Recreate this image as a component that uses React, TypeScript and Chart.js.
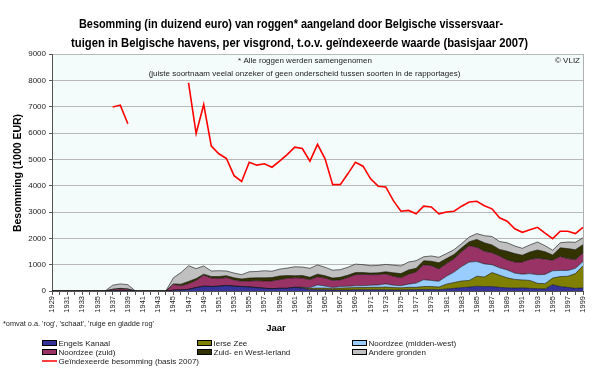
import { useEffect, useRef } from "react";
import { Chart, registerables } from "chart.js";

Chart.register(...registerables);

// Years 1929–1999
const years = [
  "1929", "1930", "1931", "1932", "1933", "1934", "1935", "1936", "1937", "1938",
  "1939", "1940", "1941", "1942", "1943", "1944", "1945", "1946", "1947", "1948",
  "1949", "1950", "1951", "1952", "1953", "1954", "1955", "1956", "1957", "1958",
  "1959", "1960", "1961", "1962", "1963", "1964", "1965", "1966", "1967", "1968",
  "1969", "1970", "1971", "1972", "1973", "1974", "1975", "1976", "1977", "1978",
  "1979", "1980", "1981", "1982", "1983", "1984", "1985", "1986", "1987", "1988",
  "1989", "1990", "1991", "1992", "1993", "1994", "1995", "1996", "1997", "1998",
  "1999",
];

const engelsKanaal = [
  0, 0, 0, 0, 0, 0, 0, 0, 10, 10,
  10, 0, 0, 0, 0, 0, 30, 40, 60, 130,
  180, 170, 180, 210, 180, 170, 150, 130, 100, 90,
  100, 100, 140, 110, 60, 50, 50, 40, 40, 40,
  50, 50, 50, 50, 50, 40, 40, 50, 50, 60,
  60, 50, 80, 100, 130, 150, 180, 170, 170, 140,
  120, 110, 120, 100, 90, 80, 240, 170, 140, 100,
  120,
];

const ierseZee = [
  0, 0, 0, 0, 0, 0, 0, 0, 0, 0,
  0, 0, 0, 0, 0, 0, 0, 0, 0, 0,
  0, 0, 0, 0, 0, 0, 0, 0, 0, 0,
  0, 0, 0, 20, 40, 60, 60, 50, 70, 80,
  80, 80, 90, 90, 100, 90, 80, 90, 90, 110,
  110, 100, 180, 220, 250, 250, 380, 360, 530, 460,
  380, 330, 300, 300, 200, 200, 250, 380, 420, 560,
  840,
];

const noordzeeMiddenWest = [
  0, 0, 0, 0, 0, 0, 0, 0, 0, 0,
  0, 0, 0, 0, 0, 0, 0, 0, 0, 0,
  0, 0, 0, 0, 0, 0, 0, 0, 0, 0,
  0, 0, 0, 10, 30, 120, 80, 40, 60, 60,
  70, 70, 80, 90, 120, 90, 80, 120, 160, 260,
  230, 220, 300, 400, 550, 700, 560, 500, 300, 280,
  300, 240, 220, 260, 330, 350, 280, 230, 220, 200,
  160,
];

const noordzeeZuid = [
  0, 0, 0, 0, 0, 0, 0, 0, 50, 70,
  60, 0, 0, 0, 0, 0, 220, 160, 220, 270,
  420, 320, 290, 300, 240, 200, 230, 260, 280, 290,
  330, 380, 360, 350, 300, 310, 300, 270, 250, 330,
  420, 430, 400, 390, 380, 340, 300, 380, 420, 570,
  560, 470, 480, 500, 560, 620, 540, 480, 450, 450,
  380, 420, 460, 540, 620, 580, 400, 530, 450, 330,
  320,
];

const zuidWestIerland = [
  0, 0, 0, 0, 0, 0, 0, 0, 10, 20,
  10, 0, 0, 0, 0, 0, 20, 60, 85, 70,
  40, 60, 80, 70, 80, 90, 110, 110, 120, 130,
  140, 110, 80, 100, 90, 100, 90, 90, 100, 90,
  80, 70, 60, 70, 80, 130, 160, 160, 140, 150,
  170, 230, 190, 170, 150, 150, 300, 320, 300, 250,
  330, 320, 260, 280, 320, 280, 200, 330, 380, 380,
  320,
];

const andereGronden = [
  0, 0, 0, 0, 0, 0, 0, 0, 150, 170,
  160, 0, 0, 0, 0, 0, 230, 440, 595, 380,
  310, 210, 220, 180, 180, 160, 240, 240, 270, 240,
  260, 280, 340, 320, 340, 350, 320, 300, 290, 300,
  320, 300, 280, 280, 280, 290, 290, 300, 290, 150,
  200, 210, 190, 180, 160, 180, 220, 270, 320, 300,
  320, 290, 260, 270, 300, 230, 180, 190, 250, 280,
  260,
];

const geindexeerd = [
  null, null, null, null, null, null, null, null, 6990, 7060,
  6350, null, null, null, null, null, null, null, 7900, 5980,
  7080, 5500, 5210, 5030, 4380, 4160, 4890, 4780, 4830, 4700,
  4930, 5180, 5460, 5410, 4930, 5570, 5020, 4040, 4040, 4450,
  4890, 4740, 4260, 3980, 3950, 3430, 3030, 3060, 2930, 3220,
  3190, 2930, 3000, 3030, 3220, 3380, 3410, 3240, 3120, 2780,
  2650, 2360, 2230, 2330, 2420, 2200, 1990, 2270, 2270, 2180,
  2420,
];

const areaSeries = [
  { label: "Engels Kanaal", data: engelsKanaal, color: "#333399" },
  { label: "Ierse Zee", data: ierseZee, color: "#808000" },
  { label: "Noordzee (midden-west)", data: noordzeeMiddenWest, color: "#99CCFF" },
  { label: "Noordzee (zuid)", data: noordzeeZuid, color: "#993366" },
  { label: "Zuid- en West-Ierland", data: zuidWestIerland, color: "#333300" },
  { label: "Andere gronden", data: andereGronden, color: "#C0C0C0" },
];
const lineLabel = "Geïndexeerde besomming (basis 2007)";

const titleLines = [
  "Besomming (in duizend euro) van roggen* aangeland door Belgische vissersvaar-",
  "tuigen in Belgische havens, per visgrond, t.o.v. geïndexeerde waarde (basisjaar 2007)",
];

const FONT = "'Liberation Sans', Arial, sans-serif";

export default function App() {
  const ref = useRef<HTMLCanvasElement>(null);

  useEffect(() => {
    document.body.style.margin = "0";
    const canvas = ref.current;
    if (!canvas) return;

    const decor = {
      id: "decor",
      beforeDraw(chart: any) {
        const { ctx, chartArea: a } = chart;
        ctx.save();
        ctx.fillStyle = "#F3FBFB";
        ctx.fillRect(a.left, a.top, a.right - a.left, a.bottom - a.top);
        ctx.restore();
      },
      afterDraw(chart: any) {
        const { ctx, chartArea: a } = chart;
        ctx.save();
        // right border of plot
        ctx.strokeStyle = "#b0b0b0";
        ctx.lineWidth = 1;
        ctx.beginPath();
        ctx.moveTo(Math.round(a.right) + 0.5, a.top);
        ctx.lineTo(Math.round(a.right) + 0.5, a.bottom);
        ctx.stroke();

        ctx.fillStyle = "#000";
        ctx.textBaseline = "alphabetic";
        ctx.textAlign = "center";
        ctx.font = `bold 12px ${FONT}`;
        ctx.fillText(titleLines[0], 291, 28, 424);
        ctx.fillText(titleLines[1], 299.5, 47, 457);

        // annotations in plot
        ctx.textBaseline = "middle";
        ctx.font = `8px ${FONT}`;
        ctx.fillStyle = "#222";
        ctx.fillText("* Alle roggen werden samengenomen", 305, 61, 147);
        ctx.fillText(
          "(juiste soortnaam veelal onzeker of geen onderscheid tussen soorten in de rapportages)",
          304.5,
          73.5,
          336
        );
        ctx.textAlign = "right";
        ctx.fillText("© VLIZ", 580, 61);

        // y-axis title
        ctx.save();
        ctx.translate(18, 173);
        ctx.rotate(-Math.PI / 2);
        ctx.textAlign = "center";
        ctx.fillStyle = "#000";
        ctx.font = `bold 11px ${FONT}`;
        ctx.fillText("Besomming (1000 EUR)", 0, 0, 118);
        ctx.restore();

        // x-axis title
        ctx.textAlign = "center";
        ctx.fillStyle = "#000";
        ctx.font = `bold 9.5px ${FONT}`;
        ctx.fillText("Jaar", 276, 328.5);

        // footnote
        ctx.textAlign = "left";
        ctx.font = `7.5px ${FONT}`;
        ctx.fillStyle = "#222";
        ctx.fillText("*omvat o.a. 'rog', 'schaat', 'ruige en gladde rog'", 3, 323.5, 151);

        // legend: [series index, column, row]
        const cols = [42, 197, 352];
        const rows = [343, 352, 361];
        const layout = [
          [0, 0, 0],
          [3, 0, 1],
          [1, 1, 0],
          [4, 1, 1],
          [2, 2, 0],
          [5, 2, 1],
        ];
        ctx.font = `8px ${FONT}`;
        ctx.textBaseline = "middle";
        layout.forEach(([idx, c, r]) => {
          const s = areaSeries[idx];
          const x = cols[c];
          const y = rows[r];
          ctx.fillStyle = s.color;
          ctx.fillRect(x, y - 2.5, 14, 5);
          ctx.strokeStyle = "#000";
          ctx.lineWidth = 1;
          ctx.strokeRect(x + 0.5, y - 2.5, 14, 5);
          ctx.fillStyle = "#222";
          ctx.fillText(s.label, x + 16.5, y + 0.5);
        });
        ctx.strokeStyle = "#FF0000";
        ctx.lineWidth = 1.5;
        ctx.beginPath();
        ctx.moveTo(cols[0], rows[2]);
        ctx.lineTo(cols[0] + 15, rows[2]);
        ctx.stroke();
        ctx.fillStyle = "#222";
        ctx.fillText(lineLabel, cols[0] + 16.5, rows[2] + 0.5);
        ctx.restore();
      },
    };

    const datasets: any[] = areaSeries.map((s, i) => ({
      label: s.label,
      data: s.data,
      backgroundColor: s.color,
      borderColor: "#111",
      borderWidth: 0.6,
      fill: i === 0 ? "origin" : "-1",
      pointRadius: 0,
      tension: 0,
      stack: "areas",
    }));
    datasets.push({
      label: lineLabel,
      data: geindexeerd,
      borderColor: "#FF0000",
      backgroundColor: "#FF0000",
      borderWidth: 1.6,
      fill: false,
      pointRadius: 0,
      tension: 0,
      spanGaps: false,
      stack: "line",
    });

    const chart = new Chart(canvas, {
      type: "line",
      data: { labels: years, datasets },
      options: {
        responsive: false,
        animation: false,
        layout: { padding: { top: 54, right: 17, bottom: 0, left: 0 } },
        plugins: {
          legend: { display: false },
          title: { display: false },
          tooltip: { enabled: false },
        },
        scales: {
          x: {
            type: "category",
            offset: false,
            grid: {
              display: true,
              drawOnChartArea: false,
              drawTicks: true,
              tickLength: 4,
              color: "#555",
            },
            border: { color: "#555", width: 1 },
            ticks: {
              autoSkip: false,
              maxRotation: 90,
              minRotation: 90,
              padding: 1,
              color: "#222",
              font: { family: FONT, size: 7.5 },
              callback: (_v: any, i: number) => (i % 2 === 0 ? years[i] : ""),
            },
            afterFit: (s: any) => {
              s.height = 77;
            },
          },
          y: {
            stacked: true,
            min: 0,
            max: 9000,
            grid: {
              color: "#b9b9b9",
              lineWidth: 1,
              drawTicks: true,
              tickLength: 3,
              tickColor: "#555",
            },
            border: { color: "#555", width: 1 },
            ticks: {
              stepSize: 1000,
              padding: 3,
              color: "#222",
              font: { family: FONT, size: 8 },
              callback: (v: any) => String(v),
            },
            afterFit: (s: any) => {
              s.width = 52;
            },
          },
        },
      },
      plugins: [decor],
    });

    return () => chart.destroy();
  }, []);

  return (
    <div style={{ width: 600, height: 368 }}>
      <canvas ref={ref} width={600} height={368} style={{ display: "block" }} />
    </div>
  );
}
